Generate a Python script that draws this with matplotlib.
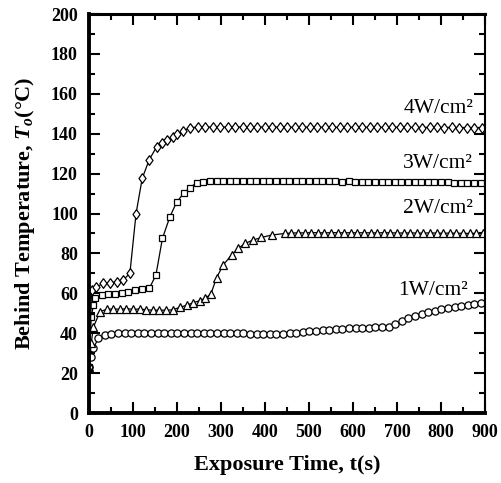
import matplotlib
matplotlib.use("Agg")
import matplotlib.pyplot as plt
from matplotlib.ticker import MultipleLocator

plt.rcParams['font.family'] = ['Liberation Serif', 'DejaVu Serif']
plt.rcParams['mathtext.fontset'] = 'custom'
plt.rcParams['mathtext.rm'] = 'Liberation Serif:bold'
plt.rcParams['mathtext.it'] = 'Liberation Serif:italic:bold'

# ---------------------------------
# Data
# ---------------------------------
t_4w = [0, 6, 17, 33, 48, 63, 78, 93, 107, 121, 137, 154, 165, 178, 190, 201,
        214, 230, 247, 264, 281, 298, 315, 332, 349, 366, 383, 400, 417, 434,
        451, 468, 485, 502, 519, 536, 553, 570, 587, 604, 621, 638, 655, 672,
        689, 706, 723, 740, 757, 774, 791, 808, 825, 842, 859, 876, 893]
T_4w = [23, 61.7, 63.3, 65.0, 65.3, 65.8, 66.7, 70.0, 100.0, 117.6, 127.0,
        133.5, 135.5, 137.0, 138.5, 139.7, 141.3, 143.0, 143.3, 143.4, 143.3,
        143.4, 143.3, 143.4, 143.3, 143.3, 143.4, 143.3, 143.3, 143.4, 143.3,
        143.2, 143.3, 143.3, 143.2, 143.3, 143.3, 143.2, 143.3, 143.2, 143.2,
        143.3, 143.2, 143.2, 143.2, 143.3, 143.2, 143.2, 143.1, 143.2, 143.2,
        143.1, 143.2, 143.1, 143.1, 143.1, 143.1]

t_3w = [0, 5, 10, 14, 29, 44, 59, 74, 89, 105, 120, 137, 152, 167, 184, 199,
        216, 230, 245, 260, 275, 290, 305, 320, 335, 350, 365, 380, 395, 410,
        425, 440, 455, 470, 485, 500, 515, 530, 545, 560, 575, 590, 605, 620,
        635, 650, 665, 680, 695, 710, 725, 740, 755, 770, 785, 800, 815, 830,
        845, 860, 875, 890]
T_3w = [23, 48.0, 54.0, 57.6, 59.0, 59.5, 59.5, 60.0, 60.8, 61.7, 62.0, 62.5,
        69.0, 87.6, 98.4, 105.6, 110.4, 113.0, 115.5, 116.0, 116.2, 116.3,
        116.3, 116.4, 116.3, 116.4, 116.3, 116.3, 116.4, 116.3, 116.3, 116.2,
        116.3, 116.2, 116.2, 116.2, 116.1, 116.2, 116.1, 116.1, 116.0, 116.1,
        116.0, 116.0, 116.0, 115.9, 115.9, 115.9, 115.8, 115.8, 115.8, 115.7,
        115.7, 115.7, 115.6, 115.6, 115.6, 115.5, 115.5, 115.5, 115.4, 115.4]

t_2w = [0, 5, 10, 25, 40, 55, 70, 85, 100, 115, 130, 145, 160, 175, 190, 207,
        222, 237, 252, 264, 277, 290, 305, 324, 339, 355, 373, 392, 415, 445,
        460, 475, 490, 505, 520, 535, 550, 565, 580, 595, 610, 625, 640, 655,
        670, 685, 700, 715, 730, 745, 760, 775, 790, 805, 820, 835, 850, 865,
        880, 895]
T_2w = [23, 35.0, 43.0, 50.8, 52.0, 52.2, 52.0, 52.3, 52.0, 52.1, 51.8, 51.5,
        51.6, 51.5, 51.7, 53.0, 54.0, 55.3, 56.3, 57.5, 59.6, 67.8, 74.2, 79.2,
        82.5, 85.0, 86.7, 88.0, 89.2, 90.0, 90.2, 90.3, 90.3, 90.4, 90.4, 90.3,
        90.4, 90.4, 90.3, 90.4, 90.3, 90.4, 90.3, 90.3, 90.4, 90.3, 90.3, 90.2,
        90.3, 90.2, 90.2, 90.3, 90.2, 90.1, 90.2, 90.1, 90.1, 90.0, 90.1, 90.0]

t_1w = [0, 5, 10, 21, 36, 51, 66, 81, 96, 111, 126, 141, 156, 171, 186, 201,
        216, 231, 246, 261, 276, 291, 306, 321, 336, 351, 366, 381, 396, 411,
        426, 441, 456, 471, 486, 501, 516, 531, 546, 561, 576, 591, 606, 621,
        636, 651, 666, 681, 696, 711, 726, 741, 756, 771, 786, 801, 816, 831,
        846, 861, 876, 891]
T_1w = [23, 28.0, 32.4, 37.4, 39.1, 39.8, 40.0, 40.1, 40.0, 40.1, 40.2, 40.1,
        40.0, 40.1, 40.2, 40.1, 40.0, 40.2, 40.1, 40.0, 40.1, 40.2, 40.1, 40.0,
        40.1, 40.0, 39.8, 39.6, 39.5, 39.4, 39.5, 39.7, 40.0, 40.3, 40.6, 40.9,
        41.2, 41.5, 41.8, 42.0, 42.2, 42.4, 42.5, 42.7, 42.8, 42.9, 43.0, 43.3,
        44.5, 46.0, 47.5, 48.8, 49.8, 50.6, 51.3, 51.9, 52.5, 53.0, 53.6, 54.2,
        54.7, 55.2]

labels = ["4W/cm\u00b2", "3W/cm\u00b2", "2W/cm\u00b2", "1W/cm\u00b2"]
label_x = [873, 873, 873, 861]      # right edge of each label
label_y = [150.4, 122.8, 100.3, 59]  # baseline of each label

x_ticks = [0, 100, 200, 300, 400, 500, 600, 700, 800, 900]
y_ticks = [0, 20, 40, 60, 80, 100, 120, 140, 160, 180, 200]

# tall, narrow diamond like the scanned original
tall_diamond = [(0, 1), (0.72, 0), (0, -1), (-0.72, 0), (0, 1)]

# ---------------------------------
# Figure
# ---------------------------------
fig = plt.figure(figsize=(5.01, 4.83), dpi=100)
ax = fig.add_axes([0.1776, 0.1449, 0.7904, 0.8261])

mk = dict(color="black", lw=0.9, markerfacecolor="white",
          markeredgecolor="black", markeredgewidth=0.9)
ax.plot(t_1w, T_1w, marker="o", ms=5.2, **mk)
ax.plot(t_2w, T_2w, marker="^", ms=5.5, **mk)
ax.plot(t_3w, T_3w, marker="s", ms=4.8, **mk)
ax.plot(t_4w, T_4w, marker=tall_diamond, ms=7, **mk)

for lab, xx, yy in zip(labels, label_x, label_y):
    ax.text(xx, yy, lab, ha="right", va="baseline", fontsize=15.5)

ax.set_xlim(0, 900)
ax.set_ylim(0, 200)
ax.set_xticks(x_ticks)
ax.set_yticks(y_ticks)
ax.xaxis.set_minor_locator(MultipleLocator(50))
ax.yaxis.set_minor_locator(MultipleLocator(10))
ax.tick_params(which="both", direction="in", top=True, right=True,
               labelsize=13, width=1.5, pad=8)
ax.tick_params(which="major", length=8)
ax.tick_params(which="minor", length=4)
for lab in ax.get_xticklabels() + ax.get_yticklabels():
    lab.set_fontweight("bold")

ax.spines["left"].set_linewidth(2.8)
ax.spines["bottom"].set_linewidth(2.8)
ax.spines["top"].set_linewidth(2.2)
ax.spines["right"].set_linewidth(1.5)

ax.set_xlabel("Exposure Time, t(s)", fontsize=16, fontweight="bold", labelpad=10)
ax.set_ylabel("Behind Temperature, $T_o$(\u00b0C)",
              fontsize=16, fontweight="bold", labelpad=10)

fig.savefig("out.png", dpi=100)
